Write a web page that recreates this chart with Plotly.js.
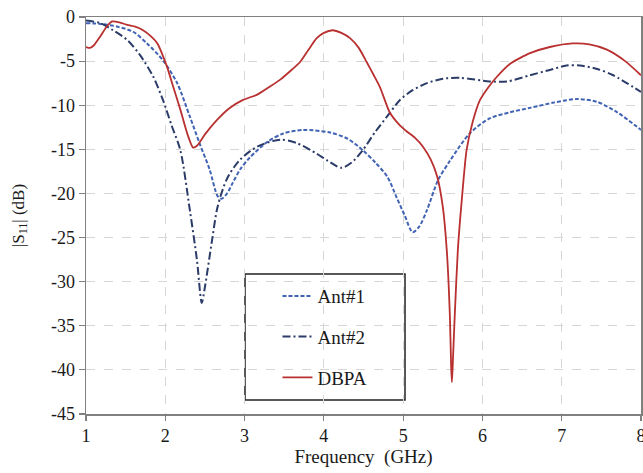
<!DOCTYPE html>
<html>
<head>
<meta charset="utf-8">
<script src="https://cdn.plot.ly/plotly-3.0.1.min.js"></script>
<style>html,body{margin:0;padding:0;background:#fff;}#chart{width:643px;height:473px;}</style>
</head>
<body>
<div id="chart"></div>
<script>
// Ant#1
const ant1Freq = [1.0,1.2,1.4,1.6,1.77,1.97,2.15,2.31,2.44,2.56,2.66,2.71,2.78,2.85,2.95,3.07,3.28,3.49,3.74,4.08,4.30,4.49,4.65,4.80,4.92,5.02,5.12,5.20,5.30,5.44,5.59,5.84,6.09,6.35,6.60,6.90,7.19,7.44,7.70,8.0];
const ant1S11  = [-0.7,-0.8,-1.1,-1.7,-3.0,-4.9,-7.5,-11.3,-14.5,-17.3,-20.3,-20.6,-20.0,-18.8,-17.2,-15.9,-14.2,-13.2,-12.8,-13.1,-13.8,-15.1,-16.5,-18.1,-20.5,-22.5,-24.4,-23.8,-21.9,-18.5,-16.3,-13.2,-11.5,-10.8,-10.3,-9.7,-9.3,-9.6,-10.8,-12.8];
// Ant#2
const ant2Freq = [1.0,1.18,1.34,1.52,1.68,1.85,1.97,2.08,2.19,2.31,2.40,2.46,2.50,2.59,2.66,2.78,2.94,3.16,3.45,3.66,3.91,4.05,4.22,4.35,4.49,4.65,4.83,4.96,5.12,5.30,5.50,5.72,6.09,6.31,6.60,6.85,7.06,7.23,7.45,7.65,8.0];
const ant2S11  = [-0.4,-0.7,-1.5,-2.6,-4.3,-6.8,-9.4,-12.3,-15.1,-21.9,-27.6,-32.4,-30.6,-25.3,-21.5,-18.3,-16.2,-14.7,-13.9,-14.3,-15.5,-16.3,-17.1,-16.5,-15.1,-13.0,-10.9,-9.4,-8.3,-7.5,-7.0,-6.9,-7.3,-7.3,-6.6,-6.0,-5.5,-5.5,-5.9,-6.6,-8.5];
// DBPA
const dbpaFreq = [1.0,1.05,1.10,1.18,1.26,1.33,1.42,1.52,1.62,1.72,1.82,1.90,2.02,2.10,2.19,2.28,2.35,2.40,2.50,2.65,2.80,2.98,3.16,3.30,3.45,3.70,3.80,3.91,4.0,4.11,4.22,4.33,4.44,4.54,4.63,4.71,4.83,4.95,5.05,5.15,5.25,5.35,5.43,5.50,5.55,5.59,5.605,5.615,5.625,5.65,5.69,5.74,5.80,5.88,5.97,6.08,6.18,6.35,6.60,6.85,7.14,7.35,7.57,7.80,8.0];
const dbpaS11  = [-3.4,-3.5,-3.2,-2.2,-1.1,-0.5,-0.6,-0.9,-1.1,-1.5,-2.2,-3.0,-5.6,-7.9,-10.5,-13.3,-14.8,-14.6,-13.3,-11.7,-10.4,-9.4,-8.8,-8.0,-7.1,-5.1,-3.8,-2.4,-1.8,-1.5,-1.8,-2.4,-3.5,-5.1,-6.6,-8.0,-10.8,-12.2,-13.0,-13.7,-14.7,-16.2,-18.1,-21.5,-26.4,-34.0,-39.5,-41.4,-39.5,-34.0,-26.4,-20.7,-15.1,-11.8,-9.4,-7.9,-6.8,-5.3,-4.1,-3.4,-3.0,-3.1,-3.7,-5.0,-6.6];

const seriesNames = ['Ant#1','Ant#2','DBPA'];
const xTicks = [1,2,3,4,5,6,7,8];
const yTicks = [0,-5,-10,-15,-20,-25,-30,-35,-40,-45];

const serif = "'Liberation Serif', 'Times New Roman', serif";

const traces = [
  {x: ant1Freq, y: ant1S11, name: seriesNames[0], legendgroup: 'a', mode: 'lines',
   line: {color: '#4163b4', width: 2, dash: '4px,2px', shape: 'spline', smoothing: 0.8}},
  {x: ant2Freq, y: ant2S11, name: seriesNames[1], legendgroup: 'b', mode: 'lines',
   line: {color: '#2b3c68', width: 2, dash: '8px,3px,2px,3px', shape: 'spline', smoothing: 0.8}},
  {x: dbpaFreq, y: dbpaS11, name: seriesNames[2], legendgroup: 'c', mode: 'lines',
   line: {color: '#b8302f', width: 1.8, shape: 'spline', smoothing: 0.6}}
];

const layout = {
  width: 643, height: 473,
  margin: {l: 86, r: 2, t: 17, b: 59},
  paper_bgcolor: '#ffffff', plot_bgcolor: '#ffffff',
  font: {family: serif, color: '#1a1a1a', size: 17},
  showlegend: true,
  legend: {x: 0.345, y: 0.345, xanchor: 'left', yanchor: 'top', bgcolor: 'rgba(0,0,0,0)',
           borderwidth: 0, font: {family: serif, size: 19, color: '#1a1a1a'},
           tracegroupgap: 13, itemwidth: 30},
  xaxis: {range: [1, 8], tickvals: xTicks, ticktext: xTicks.map(String),
          showline: true, linecolor: '#808080', linewidth: 1.5, mirror: true,
          ticks: 'outside', ticklen: 5, tickcolor: '#808080', tickwidth: 1.2,
          ticklabeloverflow: 'allow',
          showgrid: true, gridcolor: '#d6d6d6', griddash: 'dash', gridwidth: 1,
          zeroline: false, tickfont: {family: serif, size: 18},
          title: {text: 'Frequency  (GHz)', font: {family: serif, size: 19}, standoff: 4}},
  yaxis: {range: [-45, 0], tickvals: yTicks, ticktext: yTicks.map(String),
          showline: true, linecolor: '#808080', linewidth: 1.5, mirror: true,
          ticks: 'outside', ticklen: 6, tickcolor: '#808080', tickwidth: 1.2,
          ticklabeloverflow: 'allow',
          showgrid: true, gridcolor: '#d6d6d6', griddash: 'dash', gridwidth: 1,
          zeroline: false, tickfont: {family: serif, size: 18},
          title: {text: '|S<sub>11</sub>| (dB)', font: {family: serif, size: 17}, standoff: 22}},
  shapes: [{type: 'rect', xref: 'paper', yref: 'paper', x0: 0.2865, x1: 0.5748, y0: 0.035, y1: 0.3526,
            line: {color: '#222', width: 1.5}, fillcolor: '#ffffff', layer: 'between'}]
};

Plotly.newPlot('chart', traces, layout, {displayModeBar: false, staticPlot: true});
</script>
</body>
</html>
